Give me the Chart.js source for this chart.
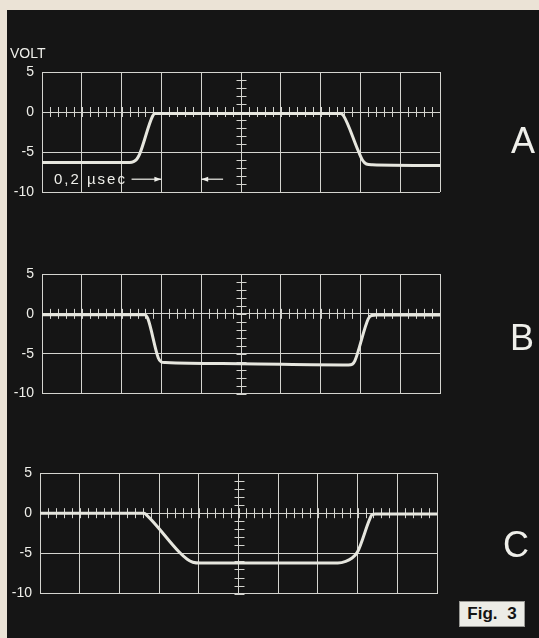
<!DOCTYPE html>
<html>
<head>
<meta charset="utf-8">
<script src="https://cdn.jsdelivr.net/npm/chart.js@4.4.1/dist/chart.umd.min.js"></script>
<style>
  html, body { margin: 0; padding: 0; }
  body { width: 539px; height: 638px; position: relative; overflow: hidden; background: #ebe3d6; font-family: 'Liberation Sans', Arial, sans-serif; }
  .screen { position: absolute; left: 7px; top: 10px; right: 0; bottom: 0; background: #151515; }
  .scope { position: absolute; left: 0; width: 539px; height: 170px; }
  .label { position: absolute; color: #efefea; line-height: 1; white-space: nowrap; }
  .volt { left: 10px; top: 46px; font-size: 14px; line-height: 14px; }
  .trace { font-size: 36px; line-height: 36px; }
  .fig { position: absolute; left: 459px; top: 601px; width: 66px; height: 26px; background: #ecece6; border: 1px solid #9a9a96; box-sizing: border-box;
         color: #141414; font-weight: bold; font-size: 17px; line-height: 24px; text-align: center; word-spacing: 5px; }
</style>
</head>
<body>
<div class="screen"></div>
<div class="scope" style="top:40px"><canvas id="scopeA"></canvas></div>
<div class="scope" style="top:240px"><canvas id="scopeB"></canvas></div>
<div class="scope" style="top:440px"><canvas id="scopeC"></canvas></div>
<div class="label volt">VOLT</div>
<div class="label trace" style="left:511px; top:123px">A</div>
<div class="label trace" style="left:510px; top:320px">B</div>
<div class="label trace" style="left:503px; top:527px">C</div>
<div class="fig">Fig. 3</div>

<script>
// time axis in microseconds, 0.2 usec per division
const timeMin = 0;
const timeMax = 2.0;
const timeStep = 0.2;
const voltTicks = [5, 0, -5, -10];

// trace A: low, step up, step back down
const timeA = [0, 0.44, 0.46, 0.476, 0.49, 0.556, 0.568, 0.59, 1.5, 1.516, 1.59, 1.61, 1.63, 1.66, 2.0];
const voltA = [-6.3, -6.3, -6.2, -5.9, -5.3, -0.5, -0.2, -0.2, -0.2, -0.5, -4.9, -6.0, -6.5, -6.6, -6.7];

// trace B: zero, step down, step back up
const timeB = [0, 0.516, 0.532, 0.584, 0.598, 0.62, 1.0, 1.54, 1.56, 1.572, 1.64, 1.656, 1.68, 2.0];
const voltB = [-0.1, -0.1, -0.6, -5.5, -6.0, -6.1, -6.25, -6.4, -6.3, -5.9, -0.6, -0.2, -0.15, -0.15];

// trace C: slower fall edge
const timeC = [0, 0.524, 0.54, 0.70, 0.74, 0.77, 0.81, 1.5, 1.54, 1.57, 1.60, 1.66, 1.672, 1.69, 2.0];
const voltC = [0, 0, -0.3, -4.8, -5.7, -6.1, -6.2, -6.2, -6.0, -5.6, -4.8, -0.8, -0.2, -0.1, -0.1];

const gridColor = '#d4d4cf';
const traceColor = '#e6e6de';

// minor graticule ticks on the zero line and the centre line
const graticule = {
  id: 'graticule',
  beforeDatasetsDraw(chart) {
    const { ctx, scales: { x, y } } = chart;
    ctx.save();
    ctx.strokeStyle = gridColor;
    ctx.lineWidth = 1;
    ctx.beginPath();
    const y0 = y.getPixelForValue(0);
    for (let t = timeMin; t <= timeMax + 1e-6; t += timeStep / 5) {
      const px = Math.round(x.getPixelForValue(t)) + 0.5;
      ctx.moveTo(px, y0 - 5);
      ctx.lineTo(px, y0 + 5);
    }
    const xc = Math.round(x.getPixelForValue((timeMin + timeMax) / 2)) + 0.5;
    for (let v = -10; v <= 5; v++) {
      const py = Math.round(y.getPixelForValue(v)) + 0.5;
      ctx.moveTo(xc - 5, py);
      ctx.lineTo(xc + 5, py);
    }
    ctx.stroke();
    ctx.restore();
  }
};

// "0,2 usec" marker under trace A
const spanMarker = {
  id: 'spanMarker',
  afterDatasetsDraw(chart) {
    const { ctx, scales: { x, y } } = chart;
    const ya = y.getPixelForValue(-8.4);
    ctx.save();
    ctx.fillStyle = '#efefea';
    ctx.strokeStyle = '#efefea';
    ctx.lineWidth = 1.2;
    ctx.font = '15px "Liberation Sans", Arial, sans-serif';
    ctx.letterSpacing = '2px';
    ctx.textBaseline = 'middle';
    ctx.fillText('0,2 \u00b5sec', x.getPixelForValue(0.06), ya + 1);

    const arrow = (from, to) => {
      const x1 = x.getPixelForValue(from), x2 = x.getPixelForValue(to);
      const dir = Math.sign(x2 - x1);
      ctx.beginPath();
      ctx.moveTo(x1, ya);
      ctx.lineTo(x2, ya);
      ctx.stroke();
      ctx.beginPath();
      ctx.moveTo(x2, ya);
      ctx.lineTo(x2 - dir * 7, ya - 2.5);
      ctx.lineTo(x2 - dir * 7, ya + 2.5);
      ctx.closePath();
      ctx.fill();
    };
    arrow(0.45, 0.6);
    arrow(0.91, 0.8);
    ctx.restore();
  }
};

function makeScope(id, times, volts, padding, axisWidth, extra) {
  const points = times.map((t, i) => ({ x: t, y: volts[i] }));
  return new Chart(document.getElementById(id), {
    type: 'line',
    data: {
      datasets: [{
        data: points,
        borderColor: traceColor,
        borderWidth: 3,
        pointRadius: 0,
        cubicInterpolationMode: 'monotone',
        fill: false
      }]
    },
    options: {
      responsive: true,
      maintainAspectRatio: false,
      animation: false,
      layout: { padding: padding },
      plugins: { legend: { display: false }, tooltip: { enabled: false } },
      scales: {
        x: {
          type: 'linear',
          min: timeMin,
          max: timeMax,
          ticks: { stepSize: timeStep, display: false },
          grid: { color: gridColor, lineWidth: 1, drawTicks: false },
          border: { display: false },
          afterFit: (s) => { s.height = 0; }
        },
        y: {
          min: -10,
          max: 5,
          afterBuildTicks: (s) => { s.ticks = voltTicks.map(v => ({ value: v })); },
          ticks: {
            color: '#efefea',
            padding: 8,
            font: { family: '"Liberation Sans", Arial, sans-serif', size: 14 }
          },
          grid: { color: gridColor, lineWidth: 1, drawTicks: false },
          border: { display: false },
          afterFit: (s) => { s.width = axisWidth; }
        }
      }
    },
    plugins: [graticule].concat(extra || [])
  });
}

makeScope('scopeA', timeA, voltA, { top: 32, bottom: 18, left: 0, right: 99 }, 42, [spanMarker]);
makeScope('scopeB', timeB, voltB, { top: 34, bottom: 16, left: 0, right: 99 }, 42, []);
makeScope('scopeC', timeC, voltC, { top: 33, bottom: 15, left: 0, right: 102 }, 40, []);
</script>
</body>
</html>
